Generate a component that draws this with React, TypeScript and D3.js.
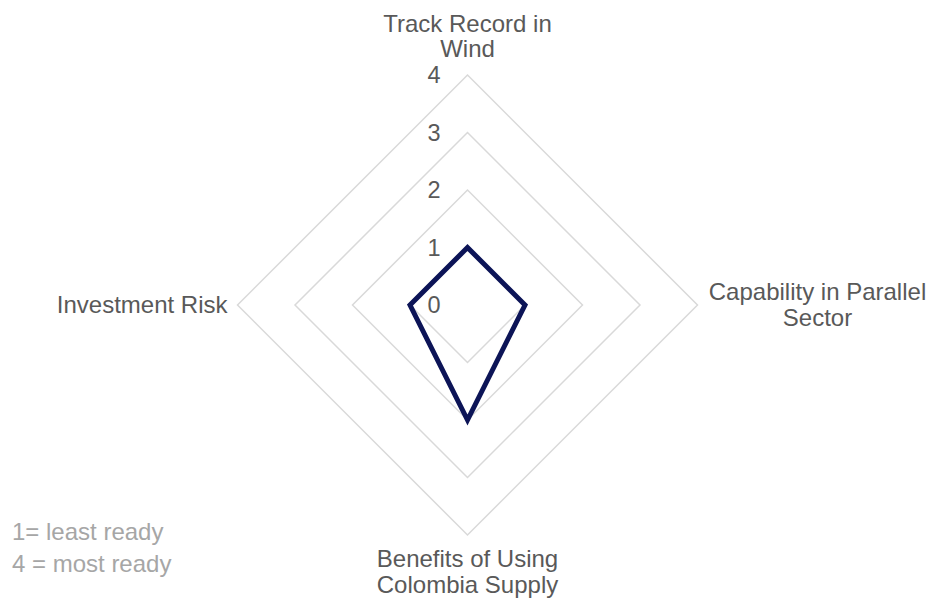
import { useEffect, useRef } from 'react';
import * as d3 from 'd3';

const axes = [
  ['Track Record in', 'Wind'],
  ['Capability in Parallel', 'Sector'],
  ['Benefits of Using', 'Colombia Supply'],
  ['Investment Risk'],
];
const scores = [1, 1, 2, 1];
const levels = [0, 1, 2, 3, 4];
const notes = ['1= least ready', '4 = most ready'];

const App = () => {
  const svgRef = useRef<SVGSVGElement>(null);

  useEffect(() => {
    const width = 937;
    const height = 601;
    const cx = 467.5;
    const cy = 305;
    const radius = 230;
    const font = 'Liberation Sans, Arial, sans-serif';

    const svg = d3.select(svgRef.current);
    svg.selectAll('*').remove();
    svg.attr('width', width).attr('height', height);

    const r = d3.scaleLinear().domain([0, 4]).range([0, radius]);
    const angle = (i: number) => (i * 2 * Math.PI) / axes.length;

    const g = svg.append('g').attr('transform', `translate(${cx},${cy})`);

    const ring = d3.lineRadial<number>()
      .angle((_, i) => angle(i))
      .radius(d => r(d))
      .curve(d3.curveLinearClosed);

    // grid diamonds
    g.selectAll('path.grid')
      .data(levels.slice(1))
      .join('path')
      .attr('class', 'grid')
      .attr('d', lv => ring(axes.map(() => lv)))
      .attr('fill', 'none')
      .attr('stroke', '#d9d9d9')
      .attr('stroke-width', 1.5);

    // level labels
    g.selectAll('text.lvl')
      .data(levels)
      .join('text')
      .attr('class', 'lvl')
      .attr('x', -27)
      .attr('y', d => -r(d))
      .attr('dy', '0.36em')
      .attr('text-anchor', 'end')
      .attr('font-family', font)
      .attr('font-size', 23.5)
      .attr('fill', '#595959')
      .text(d => d);

    // data line
    g.append('path')
      .attr('d', ring(scores))
      .attr('fill', 'none')
      .attr('stroke', '#0c1457')
      .attr('stroke-width', 5)
      .attr('stroke-linejoin', 'miter');

    // axis labels
    const lineH = 25.5;
    axes.forEach((lines, i) => {
      const a = angle(i);
      const px = Math.sin(a) * radius;
      const py = -Math.cos(a) * radius;
      let x = px;
      let anchor = 'middle';
      let firstBase = 0;
      if (i === 0) {
        firstBase = py - 18 - lineH * (lines.length - 1);
      } else if (i === 1) {
        x = px + 120;
        firstBase = -5;
      } else if (i === 2) {
        firstBase = py + 32;
      } else {
        x = px - 10;
        anchor = 'end';
        firstBase = 8;
      }
      const t = g.append('text')
        .attr('text-anchor', anchor)
        .attr('font-family', font)
        .attr('font-size', 24)
        .attr('fill', '#595959');
      lines.forEach((ln, j) => {
        t.append('tspan').attr('x', x).attr('y', firstBase + j * lineH).text(ln);
      });
    });

    // notes
    svg.selectAll('text.note')
      .data(notes)
      .join('text')
      .attr('class', 'note')
      .attr('x', 12)
      .attr('y', (_, i) => 540 + i * 32)
      .attr('font-family', font)
      .attr('font-size', 24)
      .attr('fill', '#a6a6a6')
      .text(d => d);
  }, []);

  return (
    <div style={{ position: 'absolute', left: 0, top: 0, background: '#fff' }}>
      <svg ref={svgRef} style={{ display: 'block' }} />
    </div>
  );
};

export default App;
